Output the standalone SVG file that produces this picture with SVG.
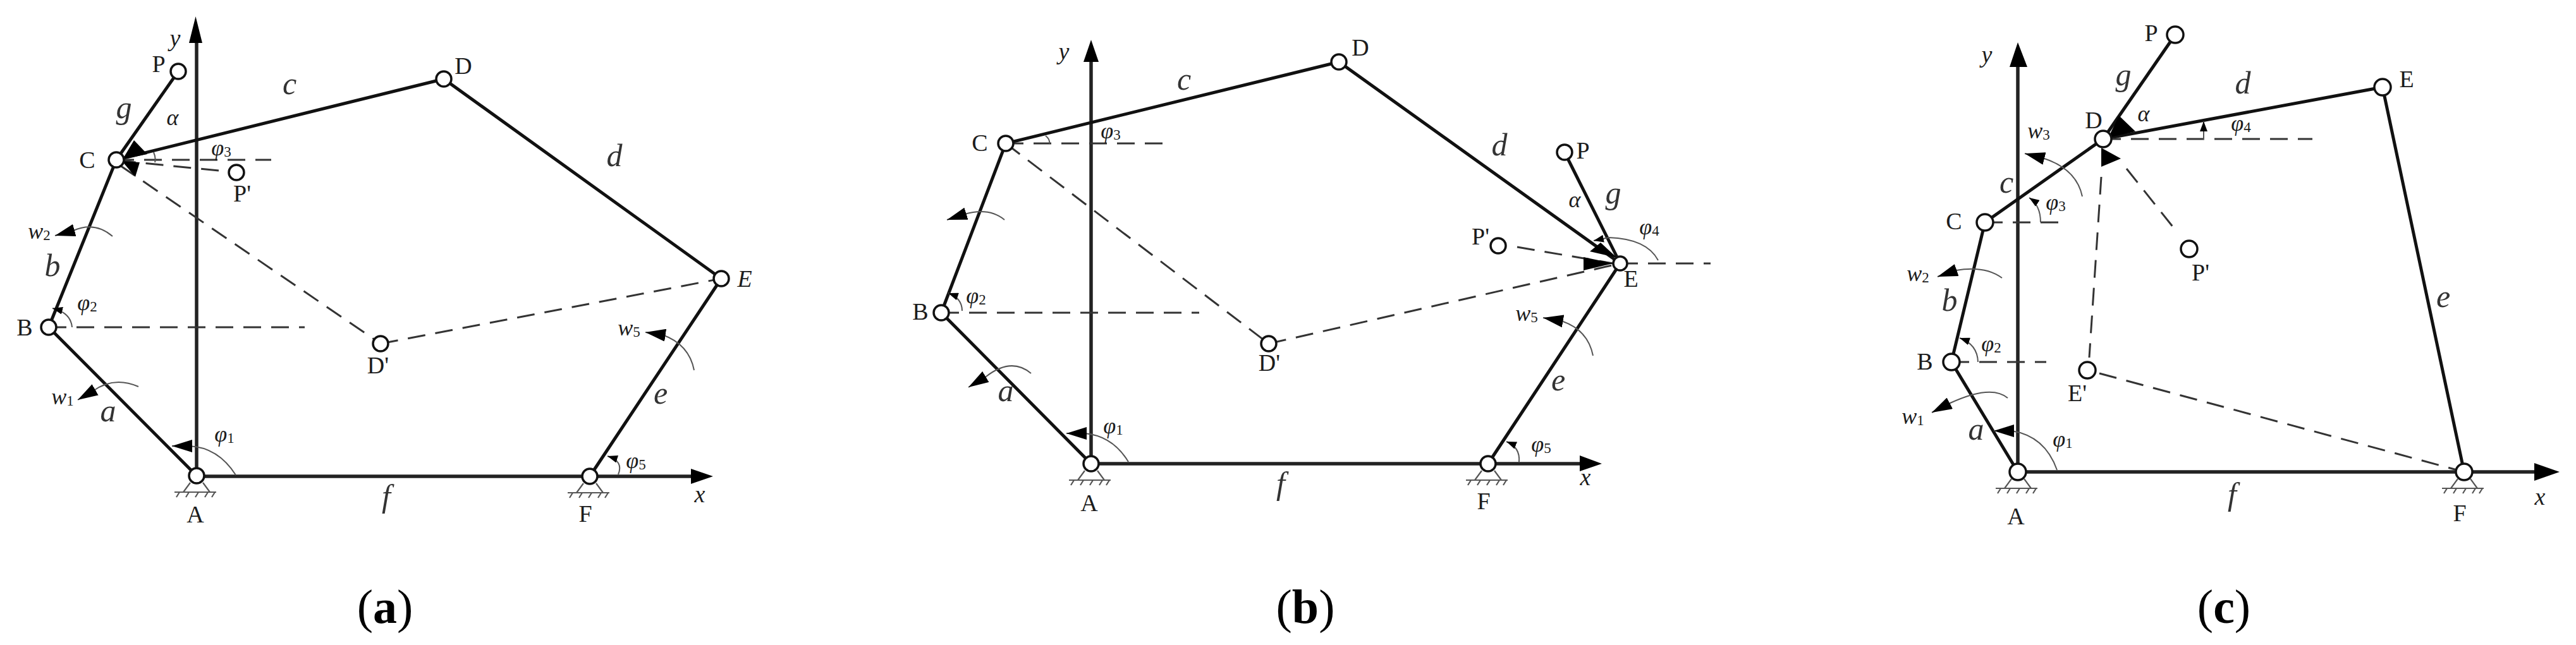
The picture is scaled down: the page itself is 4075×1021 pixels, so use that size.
<svg xmlns="http://www.w3.org/2000/svg" width="4075" height="1021" viewBox="0 0 4075 1021">
<style>
text{font-family:"Liberation Serif","Times New Roman",serif;fill:#1c1c1c;text-anchor:middle;dominant-baseline:central}
.n{font-size:38px}
.l{font-size:50px;font-style:italic;fill:#333}
.v{font-size:36px;font-style:italic}
.s{font-size:36px;font-style:italic}
.s tspan{font-size:23px;font-style:normal}
.ax{font-size:38px;font-style:italic}
.cap{font-size:76px;fill:#000}
.cap tspan{font-weight:bold}
.link{stroke:#111;stroke-width:5;fill:none}
.axis{stroke:#222;stroke-width:5.5;fill:none}
.dash{stroke:#333;stroke-width:3;fill:none;stroke-dasharray:28 16}
.arc{stroke:#555;stroke-width:2;fill:none}
.head{fill:#000}
.joint{fill:#fff;stroke:#111;stroke-width:3.5}
.gr{stroke:#555;stroke-width:2.2;fill:none}
</style>
<defs>
<marker id="big" markerUnits="userSpaceOnUse" markerWidth="32" markerHeight="20" viewBox="0 0 32 20" refX="32" refY="10" orient="auto"><path d="M0,0L32,10L0,20Z" fill="#000"/></marker>
<marker id="small" markerUnits="userSpaceOnUse" markerWidth="16" markerHeight="12" viewBox="0 0 16 12" refX="16" refY="6" orient="auto"><path d="M0,0L16,6L0,12Z" fill="#000"/></marker>
<g id="ground" class="gr"><path d="M-10,11L-21,26M10,11L21,26M-35,26H31M-27,26L-32,34M-12,26L-17,34M3,26L-2,34M18,26L13,34M29,26L24,34"/></g>
</defs>

<g id="connectors-a">
<path class="axis" d="M311,753V60"/><polygon class="head" points="309.500,26 299,68 320,68"/>
<path class="axis" d="M311,754H1095"/><polygon class="head" points="1128,754 1093,742 1093,766"/>
<path class="link" d="M311,753L77,518L184,253L702,125L1141,441L933,754"/>
<path class="link" d="M184,253L282,113"/>
<path class="dash" d="M77,518H482M184,253H429M346,270L195,255M190,262L602,544M602,544L1141,441"/>
<path class="arc" marker-end="url(#big)" d="M178,374Q150,350 116,365L87,373"/>
<path class="arc" marker-end="url(#big)" d="M219,612Q180,595 147,619L123,633"/>
<path class="arc" marker-end="url(#big)" d="M373,752Q345,708 299,706L272,706"/>
<path class="arc" marker-end="url(#small)" d="M114,518Q112,495 83,488"/>
<path class="arc" marker-end="url(#small)" d="M978,751Q987,730 961,722"/>
<path class="arc" marker-end="url(#big)" d="M1098,586Q1090,545 1048,530L1021,526"/>
<path class="arc" d="M243,241Q247,250 245,257"/>
<polygon class="head" points="194,252 212,222 233,244"/>
<polygon class="head" points="193,255 221,257 214,280"/>
</g>
<g id="nodes-a">
<g id="a-A"><use href="#ground" x="311" y="753"/><circle class="joint" cx="311" cy="753" r="12"/><text class="n" x="309" y="814">A</text></g>
<g id="a-B"><circle class="joint" cx="77" cy="518" r="12"/><text class="n" x="39" y="518">B</text></g>
<g id="a-C"><circle class="joint" cx="184" cy="253" r="12"/><text class="n" x="138" y="253">C</text></g>
<g id="a-D"><circle class="joint" cx="702" cy="125" r="12"/><text class="n" x="733" y="104">D</text></g>
<g id="a-E"><circle class="joint" cx="1141" cy="441" r="12"/><text class="n" style="font-style:italic" x="1178" y="441">E</text></g>
<g id="a-F"><use href="#ground" x="933" y="754"/><circle class="joint" cx="933" cy="754" r="12"/><text class="n" x="926" y="813">F</text></g>
<g id="a-P"><circle class="joint" cx="282" cy="113" r="12"/><text class="n" x="251" y="101">P</text></g>
<g id="a-Pp"><circle class="joint" cx="374" cy="273" r="12"/><text class="n" x="383" y="306">P'</text></g>
<g id="a-Dp"><circle class="joint" cx="602" cy="544" r="12"/><text class="n" x="598" y="578">D'</text></g>
</g>
<g id="labels-a">
<text class="ax" x="277" y="60">y</text><text class="ax" x="1107" y="782">x</text>
<text class="l" x="196" y="170">g</text><text class="v" x="273" y="186">α</text>
<text class="l" x="458" y="132">c</text><text class="l" x="972" y="246">d</text>
<text class="l" x="83" y="420">b</text><text class="l" x="171" y="650">a</text>
<text class="l" x="1045" y="622">e</text><text class="l" x="611" y="785">f</text>
<text class="s" x="350" y="234">φ<tspan dy="6">3</tspan></text><text class="s" x="138" y="479">φ<tspan dy="6">2</tspan></text>
<text class="s" x="355" y="687">φ<tspan dy="6">1</tspan></text><text class="s" x="1006" y="729">φ<tspan dy="6">5</tspan></text>
<text class="s" x="62" y="366">w<tspan dy="6">2</tspan></text><text class="s" x="99" y="628">w<tspan dy="6">1</tspan></text>
<text class="s" x="995" y="519">w<tspan dy="6">5</tspan></text>
<text class="cap" x="609" y="960">(<tspan>a</tspan>)</text>
</g>

<g id="connectors-b">
<path class="axis" d="M1726,734V90"/><polygon class="head" points="1726,63 1714,98 1738,98"/>
<path class="axis" d="M1726,734H2505"/><polygon class="head" points="2534,734 2499,721 2499,746"/>
<path class="link" d="M1726,734L1489,495L1591,227L2118,98L2563,417L2354,734"/>
<path class="link" d="M2475,241L2563,417"/>
<path class="dash" d="M1489,495H1897M1591,227H1845M1591,227L2007,544M2007,544L2563,417M2400,391L2552,417M2563,417H2706"/>
<path class="arc" marker-end="url(#big)" d="M1589,348Q1565,328 1526,339L1498,348"/>
<path class="arc" marker-end="url(#big)" d="M1631,591Q1600,565 1560,596L1532,613"/>
<path class="arc" marker-end="url(#big)" d="M1785,731Q1760,690 1716,686L1687,686"/>
<path class="arc" marker-end="url(#small)" d="M1522,492Q1522,472 1500,464"/>
<path class="arc" d="M1654,215Q1661,220 1660,227"/>
<path class="arc" marker-end="url(#small)" d="M2403,731Q2405,708 2383,699"/>
<path class="arc" marker-end="url(#big)" d="M2520,563Q2512,522 2470,508L2441,503"/>
<path class="arc" marker-end="url(#small)" d="M2623,412Q2605,378 2545,376L2521,381"/>
<polygon class="head" points="2552,417 2505,407 2505,428"/>
<polygon class="head" points="2558,408 2532,384 2515,398"/>
</g>
<g id="nodes-b">
<g id="b-A"><use href="#ground" x="1726" y="734"/><circle class="joint" cx="1726" cy="734" r="12"/><text class="n" x="1723" y="796">A</text></g>
<g id="b-B"><circle class="joint" cx="1489" cy="495" r="12"/><text class="n" x="1456" y="493">B</text></g>
<g id="b-C"><circle class="joint" cx="1591" cy="227" r="12"/><text class="n" x="1550" y="226">C</text></g>
<g id="b-D"><circle class="joint" cx="2118" cy="98" r="12"/><text class="n" x="2152" y="75">D</text></g>
<g id="b-E"><circle class="joint" cx="2563" cy="417" r="11"/><text class="n" x="2580" y="441">E</text></g>
<g id="b-F"><use href="#ground" x="2354" y="734"/><circle class="joint" cx="2354" cy="734" r="12"/><text class="n" x="2347" y="793">F</text></g>
<g id="b-P"><circle class="joint" cx="2475" cy="241" r="12"/><text class="n" x="2504" y="238">P</text></g>
<g id="b-Pp"><circle class="joint" cx="2370" cy="389" r="12"/><text class="n" x="2342" y="374">P'</text></g>
<g id="b-Dp"><circle class="joint" cx="2007" cy="544" r="12"/><text class="n" x="2008" y="574">D'</text></g>
</g>
<g id="labels-b">
<text class="ax" x="1683" y="81">y</text><text class="ax" x="2508" y="755">x</text>
<text class="l" x="2552" y="305">g</text><text class="v" x="2491" y="316">α</text>
<text class="l" x="1873" y="125">c</text><text class="l" x="2372" y="229">d</text>
<text class="l" x="1591" y="618">a</text><text class="l" x="2465" y="601">e</text><text class="l" x="2026" y="765">f</text>
<text class="s" x="1757" y="207">φ<tspan dy="6">3</tspan></text><text class="s" x="1544" y="468">φ<tspan dy="6">2</tspan></text>
<text class="s" x="1761" y="674">φ<tspan dy="6">1</tspan></text><text class="s" x="2438" y="703">φ<tspan dy="6">5</tspan></text>
<text class="s" x="2609" y="359">φ<tspan dy="6">4</tspan></text><text class="s" x="2415" y="496">w<tspan dy="6">5</tspan></text>
<text class="cap" x="2065" y="960">(<tspan>b</tspan>)</text>
</g>

<g id="connectors-c">
<path class="axis" d="M3192,747V90"/><polygon class="head" points="3192,67 3179,106 3207,106"/>
<path class="axis" d="M3192,747H4015"/><polygon class="head" points="4049,747 4009,733 4009,761"/>
<path class="link" d="M3192,747L3087,573L3140,352L3327,220L3769,138L3898,747"/>
<path class="link" d="M3327,220L3441,55"/>
<path class="dash" d="M3087,573H3237M3140,352H3270M3327,220H3658M3324,280L3305,566M3364,267L3442,365M3321,591L3898,747"/>
<path class="arc" marker-end="url(#big)" d="M3294,311Q3285,268 3234,251L3203,243"/>
<path class="arc" marker-end="url(#big)" d="M3167,440Q3140,420 3094,428L3065,438"/>
<path class="arc" marker-end="url(#big)" d="M3176,630Q3150,608 3085,638L3056,653"/>
<path class="arc" marker-end="url(#big)" d="M3254,744Q3235,690 3182,682L3154,682"/>
<path class="arc" marker-end="url(#small)" d="M3129,573Q3128,545 3100,535"/>
<path class="arc" marker-end="url(#small)" d="M3228,352Q3228,325 3210,313"/>
<path class="arc" marker-end="url(#small)" d="M3486,221V192"/>
<polygon class="head" points="3335,218 3352,183 3378,208"/>
<polygon class="head" points="3324,234 3324,264 3355,251"/>
</g>
<g id="nodes-c">
<g id="c-A"><use href="#ground" x="3192" y="747"/><circle class="joint" cx="3192" cy="747" r="13"/><text class="n" x="3189" y="817">A</text></g>
<g id="c-B"><circle class="joint" cx="3087" cy="573" r="13"/><text class="n" x="3045" y="572">B</text></g>
<g id="c-C"><circle class="joint" cx="3140" cy="352" r="13"/><text class="n" x="3091" y="350">C</text></g>
<g id="c-D"><circle class="joint" cx="3327" cy="220" r="13"/><text class="n" x="3312" y="190">D</text></g>
<g id="c-E"><circle class="joint" cx="3769" cy="138" r="13"/><text class="n" x="3807" y="125">E</text></g>
<g id="c-F"><use href="#ground" x="3898" y="747"/><circle class="joint" cx="3898" cy="747" r="13"/><text class="n" x="3891" y="812">F</text></g>
<g id="c-P"><circle class="joint" cx="3441" cy="55" r="13"/><text class="n" x="3403" y="52">P</text></g>
<g id="c-Pp"><circle class="joint" cx="3463" cy="394" r="13"/><text class="n" x="3481" y="431">P'</text></g>
<g id="c-Ep"><circle class="joint" cx="3302" cy="586" r="13"/><text class="n" x="3286" y="622">E'</text></g>
</g>
<g id="labels-c">
<text class="ax" x="3143" y="86">y</text><text class="ax" x="4018" y="786">x</text>
<text class="l" x="3359" y="118">g</text><text class="v" x="3391" y="180">α</text>
<text class="l" x="3174" y="288">c</text><text class="l" x="3548" y="131">d</text>
<text class="l" x="3084" y="475">b</text><text class="l" x="3126" y="679">a</text>
<text class="l" x="3865" y="469">e</text><text class="l" x="3531" y="782">f</text>
<text class="s" x="3252" y="320">φ<tspan dy="6">3</tspan></text><text class="s" x="3150" y="544">φ<tspan dy="6">2</tspan></text>
<text class="s" x="3263" y="695">φ<tspan dy="6">1</tspan></text><text class="s" x="3545" y="195">φ<tspan dy="6">4</tspan></text>
<text class="s" x="3225" y="207">w<tspan dy="6">3</tspan></text><text class="s" x="3034" y="433">w<tspan dy="6">2</tspan></text>
<text class="s" x="3026" y="659">w<tspan dy="6">1</tspan></text>
<text class="cap" x="3518" y="960">(<tspan>c</tspan>)</text>
</g>
</svg>
